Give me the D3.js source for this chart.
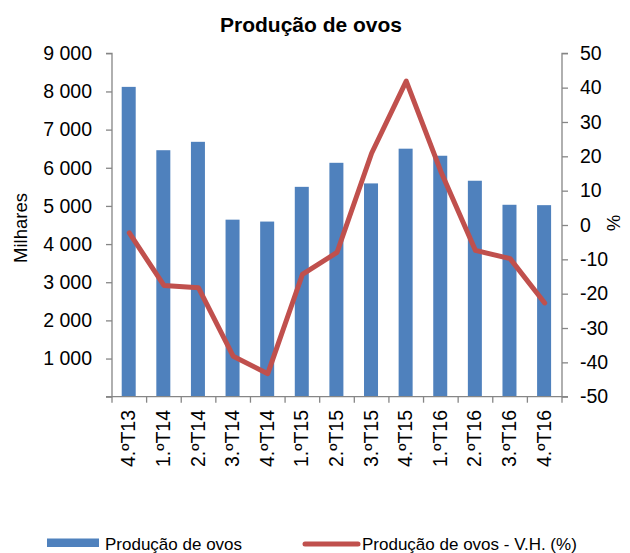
<!DOCTYPE html>
<html><head><meta charset="utf-8">
<script src="https://cdn.jsdelivr.net/npm/d3@7/dist/d3.min.js"></script>
<style>body{margin:0;background:#fff}svg{display:block;font-family:"Liberation Sans",Arial,sans-serif}</style>
</head><body><svg id="c" width="630" height="553"></svg>
<script>
const categories = ["4.ºT13","1.ºT14","2.ºT14","3.ºT14","4.ºT14","1.ºT15","2.ºT15","3.ºT15","4.ºT15","1.ºT16","2.ºT16","3.ºT16","4.ºT16"];
const production = [8120, 6460, 6680, 4640, 4590, 5500, 6130, 5590, 6500, 6315, 5660, 5030, 5020];
const yoyChange = [-2.3, -17.6, -18.3, -38.2, -43.3, -14.4, -8.0, 20.9, 41.9, 15.6, -7.4, -9.8, -22.7];
const leftTicks = [0,1000,2000,3000,4000,5000,6000,7000,8000,9000];
const rightTicks = [-50,-40,-30,-20,-10,0,10,20,30,40,50];

const svg = d3.select("#c");
const L = 112, R = 562, T = 53.3, B = 396.7;
const axisColor = "#868686";
const tickFont = "19.5px";
const x = d3.scaleBand().domain(categories).range([L, R]).paddingInner(0).paddingOuter(0);
const yL = d3.scaleLinear().domain([0, 9000]).range([B, T]);
const yR = d3.scaleLinear().domain([-50, 50]).range([B, T]);
const fmt = v => v === 0 ? "" : d3.format(",")(v).replace(/,/g, " ");

// bars
const bw = 14;
svg.append("g").selectAll("rect").data(production).join("rect")
  .attr("x", (d,i) => x(categories[i]) + x.bandwidth()/2 - bw/2 - 0.6)
  .attr("y", d => yL(d)).attr("width", bw).attr("height", d => B - yL(d))
  .attr("fill", "#4F81BD");

// left axis
const gl = svg.append("g").attr("transform", `translate(${L},0)`)
  .call(d3.axisLeft(yL).tickValues(leftTicks).tickSize(6).tickPadding(14).tickFormat(fmt));
// right axis
const gr = svg.append("g").attr("transform", `translate(${R},0)`)
  .call(d3.axisRight(yR).tickValues(rightTicks).tickSize(6).tickPadding(12).tickFormat(d => d));
// bottom axis
const gb = svg.append("g").attr("transform", `translate(0,${B})`)
  .call(d3.axisBottom(x).tickSize(0).tickFormat(""));
[gl, gr, gb].forEach(g => {
  g.selectAll(".domain").attr("stroke", axisColor).attr("stroke-width", 1.3);
  g.selectAll(".tick line").attr("stroke", axisColor).attr("stroke-width", 1.3);
  g.selectAll("text").attr("fill", "#000").style("font-size", tickFont).style("font-family", '"Liberation Sans",Arial,sans-serif');
});
gl.select(".domain").attr("d", `M-6,${T}H0V${B}H-6`);
gr.select(".domain").attr("d", `M6,${T}H0V${B}H6`);
gb.select(".domain").attr("d", `M${L},0H${R}`);
// category boundary ticks
const bounds = categories.map(c => x(c)).concat([R]);
gb.selectAll("line.bt").data(bounds).join("line").attr("class","bt")
  .attr("x1", d => d).attr("x2", d => d).attr("y1", 0).attr("y2", 6)
  .attr("stroke", axisColor).attr("stroke-width", 1.3);
// x labels rotated
svg.append("g").selectAll("text").data(categories).join("text")
  .attr("transform", d => `translate(${x(d) + x.bandwidth()/2 + 6},410) rotate(-90)`)
  .attr("text-anchor", "end").style("font-size", tickFont).text(d => d);

// line
const line = d3.line().x((d,i) => x(categories[i]) + x.bandwidth()/2).y(d => yR(d));
svg.append("path").datum(yoyChange).attr("d", line)
  .attr("fill", "none").attr("stroke", "#C0504D").attr("stroke-width", 5)
  .attr("stroke-linejoin", "round").attr("stroke-linecap", "round");

// title
svg.append("text").attr("x", 311).attr("y", 31.7).attr("text-anchor", "middle")
  .style("font-size", "21px").style("font-weight", "bold").text("Produção de ovos");
// axis titles
svg.append("text").attr("transform", "translate(26.5,228) rotate(-90)").attr("text-anchor", "middle")
  .style("font-size", "18.5px").text("Milhares");
svg.append("text").attr("transform", "translate(607,223) rotate(90)").attr("text-anchor", "middle")
  .style("font-size", "18.5px").text("%");

// legend
const lg = svg.append("g");
lg.append("rect").attr("x", 47).attr("y", 538.5).attr("width", 52).attr("height", 8.5).attr("fill", "#4F81BD");
lg.append("text").attr("x", 105).attr("y", 549.5).style("font-size", "17px").text("Produção de ovos");
lg.append("line").attr("x1", 305).attr("x2", 358).attr("y1", 544).attr("y2", 544)
  .attr("stroke", "#C0504D").attr("stroke-width", 5).attr("stroke-linecap", "round");
lg.append("text").attr("x", 362).attr("y", 549.5).style("font-size", "17px").text("Produção de ovos - V.H. (%)");
</script></body></html>
